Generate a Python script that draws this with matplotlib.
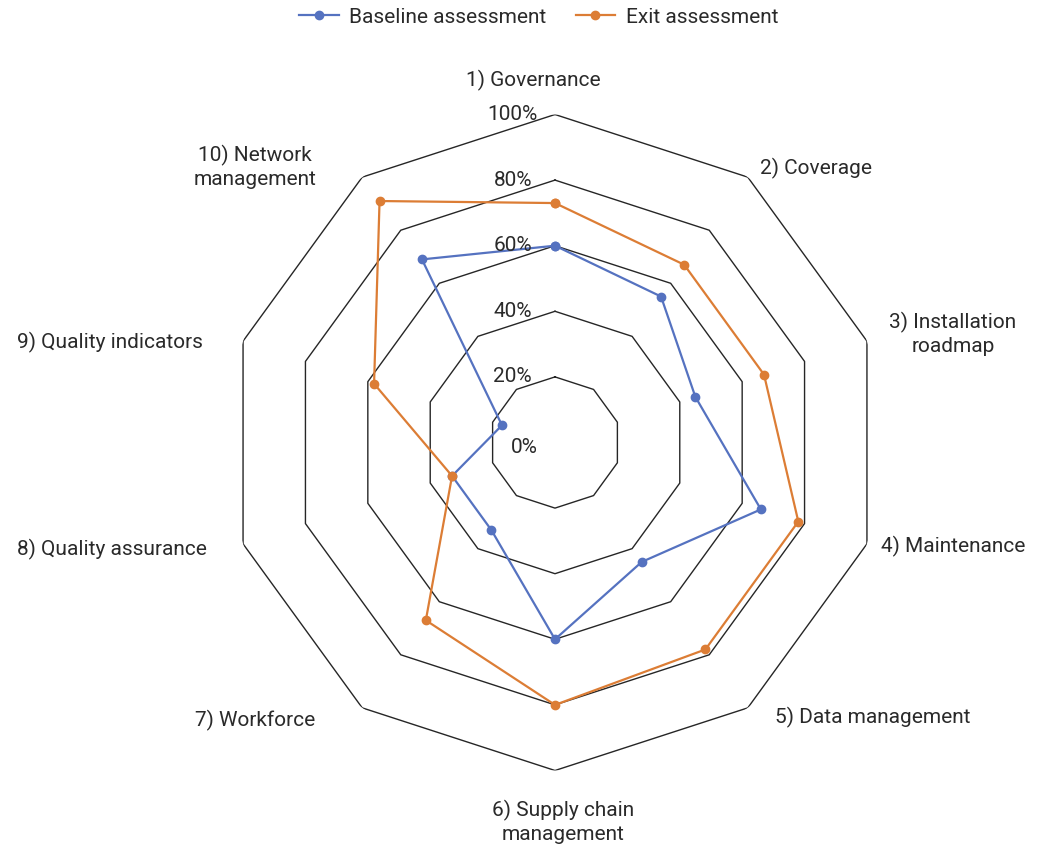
import numpy as np
import matplotlib
matplotlib.use("Agg")
import matplotlib.pyplot as plt

plt.rcParams["font.family"] = ["Roboto", "DejaVu Sans"]

categories = [
    "1) Governance", "2) Coverage", "3) Installation\nroadmap", "4) Maintenance",
    "5) Data management", "6) Supply chain\nmanagement", "7) Workforce",
    "8) Quality assurance", "9) Quality indicators", "10) Network\nmanagement",
]
baseline = [60, 55, 45, 66, 45, 60, 33, 33, 17, 69]
exit_vals = [73, 67, 67, 78, 78, 80, 67, 33, 58, 91]
levels = [20, 40, 60, 80, 100]
tick_labels = ["0%", "20%", "40%", "60%", "80%", "100%"]

W, H = 1042, 847
BLUE = "#5572C0"
ORANGE = "#DC7D35"
GRID = "#262626"
TXT = "#2a2a2a"
FS = 15

fig = plt.figure(figsize=(W / 100, H / 100), dpi=100)
cx, cy, R = 555, 442.5, 328
ax = fig.add_axes([(cx - R) / W, (H - cy - R) / H, 2 * R / W, 2 * R / H], projection="polar")
ax.set_theta_zero_location("N")
ax.set_theta_direction(-1)
ax.set_ylim(0, 100)
ax.set_axis_off()

n = len(categories)
theta = np.arange(n) * 2 * np.pi / n
closed = np.append(theta, theta[0])

for lvl in levels:
    ax.plot(closed, [lvl] * (n + 1), color=GRID, lw=1.0, zorder=1)

for vals, col, name in [(baseline, BLUE, "Baseline assessment"), (exit_vals, ORANGE, "Exit assessment")]:
    ax.plot(closed, vals + vals[:1], color=col, lw=1.6, marker="o", ms=6, label=name, zorder=3)

# percentage labels along the top spoke
for i, lab in enumerate(tick_labels):
    dx = -17 if lab in ("0%", "100%") else -23
    dy = -5 if lab == "0%" else 0
    ax.annotate(lab, xy=(0, i * 20), xytext=(dx, dy), textcoords="offset pixels",
                ha="right", va="center", fontsize=FS, color=TXT)

# category labels (pixel centres)
label_pos = [(533, 80), (816, 168), (953, 334), (953, 546), (873, 717),
             (563, 822), (255, 720), (112, 549), (110, 342), (255, 167)]
for lab, (px, py) in zip(categories, label_pos):
    fig.text(px / W, 1 - py / H, lab, ha="center", va="center", fontsize=FS,
             color=TXT, linespacing=1.25)

fig.legend(loc="upper center", bbox_to_anchor=(0.517, 1.013), ncol=2, frameon=False,
           fontsize=FS, handlelength=1.9, columnspacing=1.4, handletextpad=0.5,
           labelcolor=TXT)

fig.savefig("out.png", dpi=100, facecolor="white")
